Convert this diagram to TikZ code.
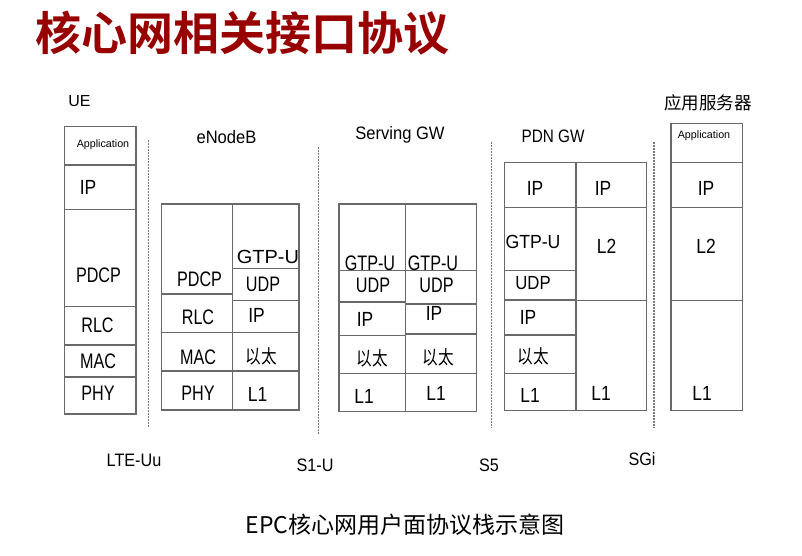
\documentclass[tikz,border=0pt]{standalone}
\usepackage{graphicx}
\usepackage{fontspec}
\setmainfont{Liberation Sans}
\newfontfamily\cjk{Noto Sans CJK SC}
\newfontfamily\cjkb{Noto Sans CJK SC Bold}
\definecolor{titlered}{RGB}{152,0,0}
\definecolor{linegray}{RGB}{105,105,105}
\definecolor{dotgray}{RGB}{120,120,120}
% horizontal squeeze of a label; the factor is set by the node style
\newcommand\hs{1}
\newcommand\sx[1]{\scalebox{\hs}[1]{#1}}
\begin{document}
\begin{tikzpicture}[x=1pt,y=-1pt,
  stack/.style={draw=linegray, line width=1.1pt},
  iface/.style={draw=dotgray, line width=1.4pt, dash pattern=on 1.6pt off 1.4pt},
  word/.style={inner sep=0pt, font=\fontsize{21}{23}\selectfont, execute at begin node={\def\hs{0.77}}},
  short/.style={inner sep=0pt, font=\fontsize{20.5}{23}\selectfont, execute at begin node={\def\hs{0.85}}},
  wide/.style={inner sep=0pt, font=\fontsize{19}{21}\selectfont, execute at begin node={\def\hs{#1}}},
  tag/.style={inner sep=0pt, font=\fontsize{18}{20}\selectfont, execute at begin node={\def\hs{#1}}},
  small/.style={inner sep=0pt, font=\fontsize{10.7}{12}\selectfont},
  cn/.style={inner sep=0pt, font=\cjk\fontsize{19}{21}\selectfont, execute at begin node={\def\hs{0.82}}}]
\useasboundingbox[fill=white] (0,0) rectangle (802,556);

% heading and caption
\node[inner sep=0pt, text=titlered, font=\cjkb\fontsize{46}{50}\selectfont] (title) at (242.5,33) {核心网相关接口协议};
\node[inner sep=0pt, font=\cjk\fontsize{23}{26}\selectfont] (caption) at (405,525) {EPC核心网用户面协议栈示意图};

% interface separators
\coordinate (uuTop) at (148.3,140);   \coordinate (uuBot) at (148.3,427);
\coordinate (s1Top) at (318.3,147);   \coordinate (s1Bot) at (318.3,435);
\coordinate (s5Top) at (491.7,142);   \coordinate (s5Bot) at (491.7,428);
\coordinate (sgTop) at (654,142);     \coordinate (sgBot) at (654,428);
\draw[iface] (uuTop) -- (uuBot);
\draw[iface] (s1Top) -- (s1Bot);
\draw[iface] (s5Top) -- (s5Bot);
\draw[iface] (sgTop) -- (sgBot);

\node[tag=0.9] (uu) at (134,460) {\sx{LTE-Uu}};
\node[tag=0.9] (s1u) at (315,465) {\sx{S1-U}};
\node[tag=0.9] (s5) at (489,465) {\sx{S5}};
\node[tag=0.9] (sgi) at (642,459) {\sx{SGi}};

% UE
\node[inner sep=0pt, font=\fontsize{16}{18}\selectfont] (ueName) at (79.5,101) {UE};
\draw[stack] (64.5,126.5) rectangle (136,414);
\foreach \y in {165,209.5,306.5,345,377} \draw[stack] (64.5,\y) -- (136,\y);
\node[small] (ueApp) at (103,145) {Application};
\node[short] (ueIP) at (88,187) {\sx{IP}};
\node[word] (uePDCP) at (98.5,275) {\sx{PDCP}};
\node[word] (ueRLC) at (97.5,325) {\sx{RLC}};
\node[word] (ueMAC) at (98,361.5) {\sx{MAC}};
\node[word] (uePHY) at (98,393) {\sx{PHY}};

% eNodeB
\node[tag=0.92] (enbName) at (226.5,137) {\sx{eNodeB}};
\draw[stack] (161.5,204) rectangle (299,410);
\draw[stack] (232.5,204) -- (232.5,410);
\foreach \y in {294,332.5,371} \draw[stack] (161.5,\y) -- (232.5,\y);
\foreach \y in {268.5,300.5,332.5,371} \draw[stack] (232.5,\y) -- (299,\y);
\node[word] (enbPDCP) at (199.5,279) {\sx{PDCP}};
\node[word] (enbRLC) at (198,317) {\sx{RLC}};
\node[word] (enbMAC) at (198,357) {\sx{MAC}};
\node[word] (enbPHY) at (198,393) {\sx{PHY}};
\node[wide=1.05] (enbGTP) at (268,257) {\sx{GTP-U}};
\node[word] (enbUDP) at (263,284) {\sx{UDP}};
\node[short] (enbIP) at (256.5,315.5) {\sx{IP}};
\node[cn] (enbEth) at (261,356) {\sx{以太}};
\node[short] (enbL1) at (257.5,394) {\sx{L1}};

% Serving GW
\node[tag=0.92] (sgwName) at (400,135) {\sx{Serving GW}};
\draw[stack] (339,204) rectangle (476.5,411.5);
\draw[stack] (405.5,204) -- (405.5,411.5);
\foreach \y in {270.5,302,335.5,373.5} \draw[stack] (339,\y) -- (405.5,\y);
\foreach \y in {270.5,304,334,373.5} \draw[stack] (405.5,\y) -- (476.5,\y);
\node[word] (sgwGTPa) at (370,263) {\sx{GTP-U}};
\node[word] (sgwUDPa) at (373,285) {\sx{UDP}};
\node[short] (sgwIPa) at (365,319) {\sx{IP}};
\node[cn] (sgwEtha) at (372,358) {\sx{以太}};
\node[short] (sgwL1a) at (364,396) {\sx{L1}};
\node[word] (sgwGTPb) at (433,263) {\sx{GTP-U}};
\node[word] (sgwUDPb) at (436.5,285) {\sx{UDP}};
\node[short] (sgwIPb) at (434,313) {\sx{IP}};
\node[cn] (sgwEthb) at (438,357) {\sx{以太}};
\node[short] (sgwL1b) at (436,393) {\sx{L1}};

% PDN GW
\node[tag=0.85] (pgwName) at (553,136.5) {\sx{PDN GW}};
\draw[stack] (504.5,162.5) rectangle (646.5,410.5);
\draw[stack] (576,162.5) -- (576,410.5);
\draw[stack] (504.5,207.5) -- (646.5,207.5);
\foreach \y in {270.5,300,335,373.5} \draw[stack] (504.5,\y) -- (576,\y);
\draw[stack] (576,300.5) -- (646.5,300.5);
\node[short] (pgwIPa) at (535,188) {\sx{IP}};
\node[wide=0.93] (pgwGTP) at (533,241.5) {\sx{GTP-U}};
\node[wide=0.88] (pgwUDP) at (533,283.5) {\sx{UDP}};
\node[short] (pgwIPc) at (528,317.5) {\sx{IP}};
\node[cn] (pgwEth) at (533,356.5) {\sx{以太}};
\node[short] (pgwL1a) at (530,395) {\sx{L1}};
\node[short] (pgwIPb) at (603,188) {\sx{IP}};
\node[short] (pgwL2) at (606.5,246.5) {\sx{L2}};
\node[short] (pgwL1b) at (601,393) {\sx{L1}};

% application server
\node[inner sep=0pt, font=\cjk\fontsize{17.5}{20}\selectfont] (srvName) at (708,103) {应用服务器};
\draw[stack] (671,123.5) rectangle (742.5,410.5);
\foreach \y in {162.5,207.5,300.5} \draw[stack] (671,\y) -- (742.5,\y);
\node[small] (srvApp) at (704,136) {Application};
\node[short] (srvIP) at (706,188) {\sx{IP}};
\node[short] (srvL2) at (706,246.5) {\sx{L2}};
\node[short] (srvL1) at (702,393) {\sx{L1}};
\end{tikzpicture}
\end{document}
